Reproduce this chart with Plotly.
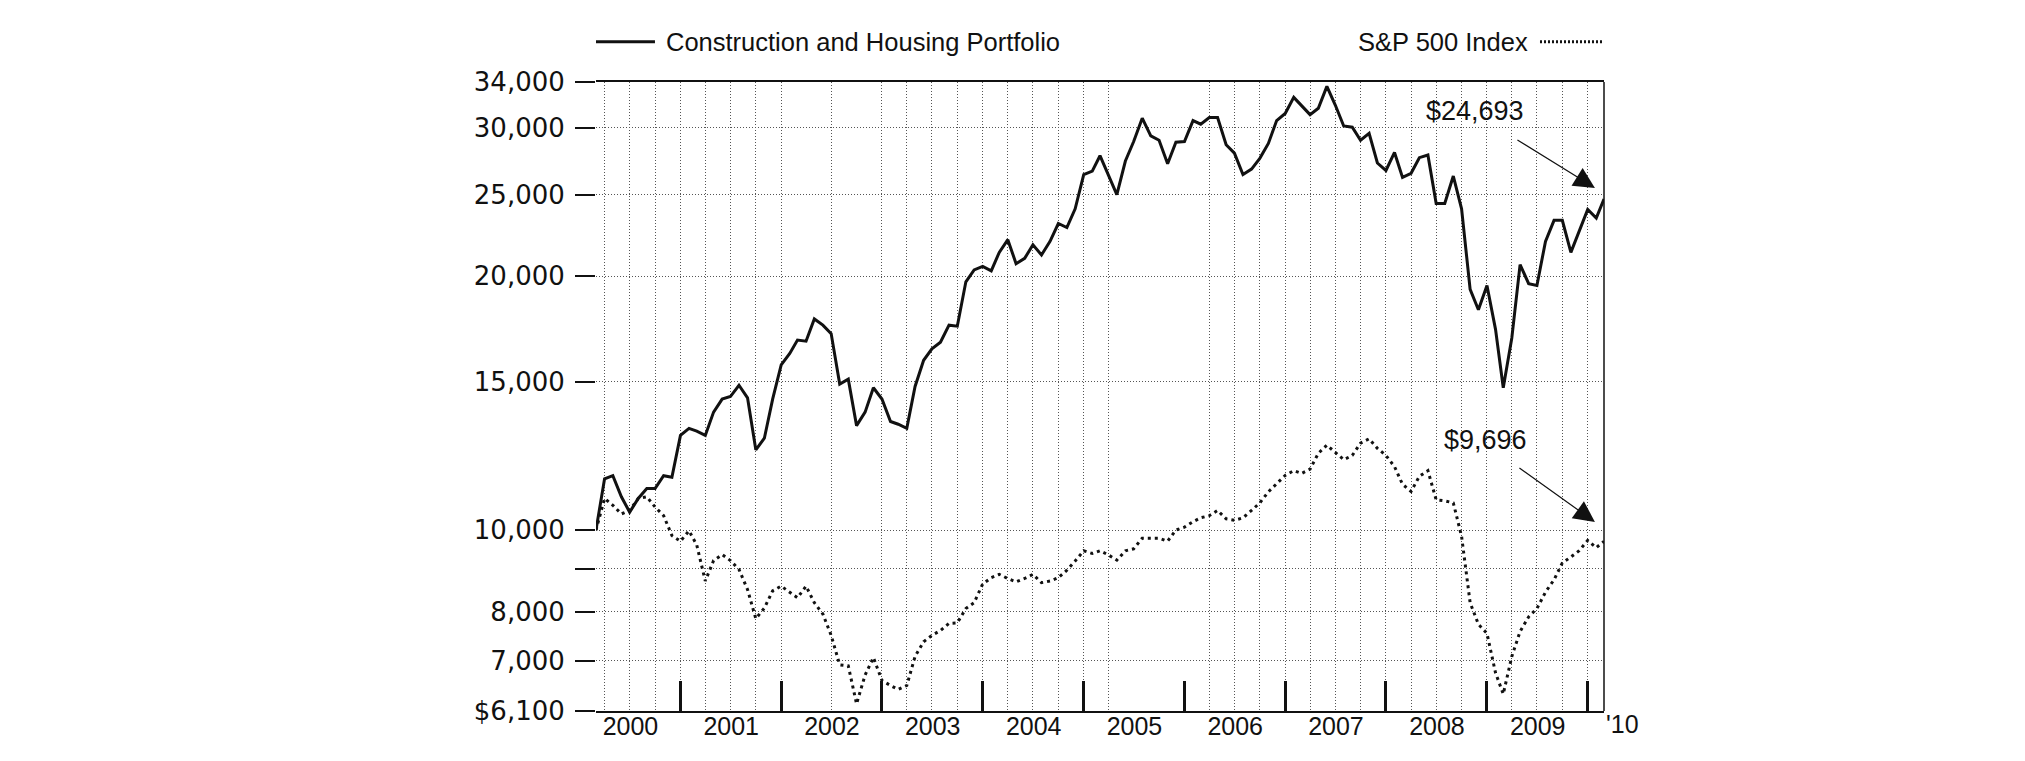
import math
import plotly.graph_objects as go
import pandas as pd

# ---------------- data ----------------
months = pd.date_range("2000-02-29", periods=121, freq="ME")

construction_housing = [
    10000, 11500, 11600, 10950, 10500, 10900, 11200, 11200, 11600, 11550,
    12950, 13200, 13100, 12950, 13800, 14300, 14400, 14850, 14350, 12450,
    12850, 14300, 15700, 16200, 16800, 16750, 17800, 17500, 17100, 14900,
    15100, 13300, 13800, 14750, 14300, 13450, 13350, 13200, 14800, 15900,
    16400, 16700, 17500, 17450, 19700, 20350, 20550, 20300, 21350, 22100,
    20700, 21000, 21800, 21200, 22000, 23100, 22850, 24050, 26400, 26650,
    27800, 26300, 25000, 27400, 28900, 30800, 29350, 29000, 27200, 28850,
    28900, 30600, 30300, 30850, 30850, 28650, 28000, 26400, 26800, 27600,
    28750, 30600, 31200, 32600, 31850, 31100, 31650, 33600, 31950, 30150,
    30050, 29000, 29550, 27250, 26700, 28050, 26200, 26500, 27650, 27850,
    24400, 24400, 26300, 24050, 19300, 18250, 19500, 17300, 14750, 16900,
    20650, 19600, 19500, 22000, 23300, 23300, 21350, 22600, 24000, 23450,
    24693,
]

sp500 = [
    10000, 10900, 10700, 10450, 10550, 10900, 10950, 10650, 10400, 9850,
    9700, 9980, 9600, 8700, 9200, 9350, 9200, 8980, 8500, 7850,
    8080, 8470, 8580, 8440, 8310, 8580, 8200, 7950, 7500, 6920,
    6900, 6220, 6730, 7060, 6630, 6540, 6470, 6540, 7080, 7370,
    7500, 7600, 7750, 7760, 8070, 8200, 8630, 8780, 8860, 8760,
    8680, 8760, 8860, 8660, 8700, 8780, 8960, 9190, 9450, 9380,
    9450, 9340, 9210, 9450, 9500, 9780, 9780, 9780, 9700, 10000,
    10080, 10230, 10340, 10400, 10550, 10310, 10270, 10340, 10550, 10770,
    11100, 11350, 11610, 11760, 11670, 11810, 12330, 12610, 12350, 12120,
    12260, 12680, 12830, 12500, 12260, 11890, 11330, 11110, 11580, 11760,
    10860, 10830, 10770, 9830, 8200, 7730, 7540, 6770, 6390, 7080,
    7580, 7890, 8070, 8440, 8730, 9140, 9290, 9450, 9720, 9530,
    9696,
]

series_names = ["Construction and Housing Portfolio", "S&P 500 Index"]
end_labels = ["$24,693", "$9,696"]

y_tick_values = [6100, 7000, 8000, 9000, 10000, 15000, 20000, 25000, 30000, 34000]
y_tick_labels = ["$6,100", "7,000", "8,000", "", "10,000", "15,000", "20,000",
                 "25,000", "30,000", "34,000"]

years = list(range(2000, 2010))
year_labels = [str(y) for y in years]
year_end_dates = [f"{y}-12-31" for y in years]
# quarterly grid (a few quarters have no grid line in the original)
missing_grid = {"2002-03-31", "2002-09-30", "2005-06-30", "2005-09-30", "2005-12-31"}
grid_dates = [d.strftime("%Y-%m-%d") for d in pd.date_range("2000-03-31", "2009-12-31", freq="QE")
              if d.strftime("%Y-%m-%d") not in missing_grid]

# ---------------- figure ----------------
INK = "#111111"
GRID = "#555555"
x_range = [months[0], months[-1]]
SANS = "Liberation Sans, Arial, sans-serif"

fig = go.Figure()
fig.add_trace(go.Scatter(x=months, y=construction_housing, mode="lines",
                         line=dict(color=INK, width=3), name=series_names[0],
                         showlegend=False, xaxis="x", yaxis="y"))
fig.add_trace(go.Scatter(x=months, y=sp500, mode="lines",
                         line=dict(color=INK, width=3, dash="3px,4px"), name=series_names[1],
                         showlegend=False, xaxis="x2", yaxis="y"))

fig.update_layout(
    width=2025, height=761,
    margin=dict(l=588, r=429, t=74, b=58),
    paper_bgcolor="white", plot_bgcolor="white",
    # main x axis: tall year-end ticks, year labels shifted to mid-year, frame lines
    xaxis=dict(
        type="date", range=x_range,
        tickmode="array", tickvals=year_end_dates, ticktext=year_labels,
        ticks="inside", ticklen=30, tickwidth=3, tickcolor=INK,
        ticklabelshift=-50, ticklabelstandoff=-8,
        tickfont=dict(family=SANS, size=25, color=INK),
        showgrid=False, zeroline=False,
        showline=True, mirror=True, linecolor=INK, linewidth=1.5,
    ),
    # quarterly dotted grid
    xaxis2=dict(
        type="date", range=x_range, overlaying="x", anchor="y", side="bottom",
        tickmode="array", tickvals=grid_dates,
        ticks="", showticklabels=False,
        showgrid=True, gridcolor=GRID, gridwidth=1, griddash="1px,2px",
        showline=False, zeroline=False,
    ),
    yaxis=dict(
        type="log", range=[math.log10(6100), math.log10(34000)],
        tickmode="array", tickvals=y_tick_values, ticktext=y_tick_labels,
        ticks="outside", ticklen=20, tickwidth=1.5, tickcolor=INK,
        ticklabelstandoff=5,
        showgrid=True, gridcolor=GRID, gridwidth=1, griddash="1px,2px",
        showline=False, zeroline=False,
        tickfont=dict(family="DejaVu Sans", size=26, color=INK),
    ),
)

# right border
fig.add_shape(type="line", xref="paper", yref="paper", x0=1, x1=1, y0=0, y1=1,
              line=dict(color=INK, width=1.5))

# legend (top)
legend_font = dict(family=SANS, size=25.5, color=INK)
fig.add_shape(type="line", xref="paper", yref="paper", x0=0, x1=0.0585, y0=1.064, y1=1.064,
              line=dict(color=INK, width=3))
fig.add_annotation(xref="paper", yref="paper", x=0.0675, y=1.064, text=series_names[0],
                   showarrow=False, xanchor="left", yanchor="middle", font=legend_font)
fig.add_annotation(xref="paper", yref="paper", x=0.9266, y=1.064, text=series_names[1],
                   showarrow=False, xanchor="right", yanchor="middle", font=legend_font)
fig.add_shape(type="line", xref="paper", yref="paper", x0=0.9365, x1=1.0, y0=1.064, y1=1.064,
              line=dict(color=INK, width=3, dash="2px,2px"))

# end value callouts
ann_font = dict(family=SANS, size=27, color=INK)
fig.add_annotation(xref="paper", yref="paper", x=0.872, y=0.954, text=end_labels[0],
                   showarrow=False, xanchor="center", yanchor="middle", font=ann_font)
fig.add_annotation(xref="paper", yref="paper", x=0.882, y=0.431, text=end_labels[1],
                   showarrow=False, xanchor="center", yanchor="middle", font=ann_font)
for hx, hy, ax, ay in [(0.991, 0.8315, -79, -49), (0.991, 0.3005, -77, -55)]:
    fig.add_annotation(xref="paper", yref="paper", x=hx, y=hy, text="",
                       showarrow=True, arrowhead=2, arrowsize=3.5, arrowwidth=1.2,
                       arrowcolor=INK, ax=ax, ay=ay, standoff=0)

# '10 label past the last year
fig.add_annotation(xref="paper", yref="paper", x=1.0, y=-0.021, text="'10",
                   showarrow=False, font=dict(family=SANS, size=25, color=INK),
                   xanchor="left", yanchor="middle")

fig.write_html("out.html")
